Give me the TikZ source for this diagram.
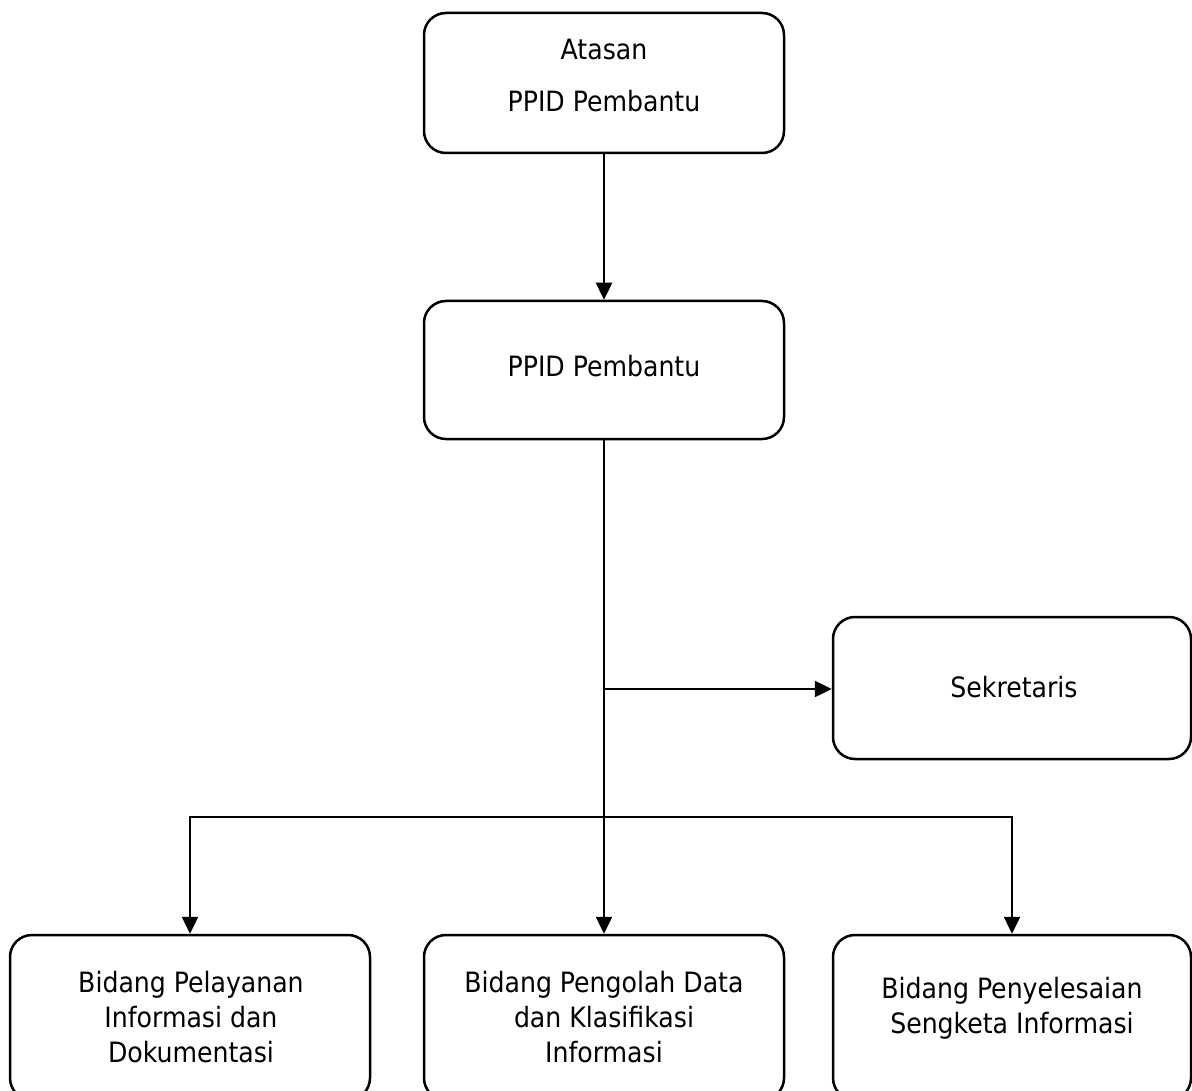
\documentclass[tikz,border=0pt]{standalone}
\usepackage{fontspec}
\setmainfont{DejaVu Sans Condensed}
\usetikzlibrary{arrows.meta}
\begin{document}
\begin{tikzpicture}[x=1pt,y=-1pt,
  box/.style={draw=black, line width=2.5pt, rounded corners=22pt, fill=white, inner sep=0pt},
  lbl/.style={font=\fontsize{28}{35}\selectfont, align=center, anchor=base, inner sep=0pt},
  conn/.style={line width=2.5pt},
  arr/.style={conn, -{Triangle[length=17pt,width=16pt]}}]
\useasboundingbox (0,0) rectangle (1192,1091);
\clip (0,0) rectangle (1192,1091);
% boxes
\node[box, minimum width=360pt, minimum height=140pt] (top) at (604,83) {};
\node[box, minimum width=360pt, minimum height=138pt] (ppid) at (604,370) {};
\node[box, minimum width=358pt, minimum height=142pt] (sek) at (1012,688) {};
\node[box, minimum width=360pt, minimum height=165pt] (left) at (190,1017.5) {};
\node[box, minimum width=360pt, minimum height=165pt] (mid) at (604,1017.5) {};
\node[box, minimum width=358pt, minimum height=165pt] (right) at (1012,1017.5) {};
% texts (base anchor = baseline of the last line)
\node[lbl] (ttop) at (604,112) {Atasan\\[17pt]PPID Pembantu};
\node[lbl] (tppid) at (604,377) {PPID Pembantu};
\node[lbl] (tsek) at (1014,697) {Sekretaris};
\node[lbl] (tleft) at (191,1062) {Bidang Pelayanan\\Informasi dan\\Dokumentasi};
\node[lbl] (tmid) at (604,1062) {Bidang Pengolah Data\\dan Klasifikasi\\Informasi};
\node[lbl] (tright) at (1012,1033) {Bidang Penyelesaian\\Sengketa Informasi};
% connectors
\coordinate (j) at (604,689);
\coordinate (b) at (604,817);
\draw[arr] (top.south) -- (ppid.north);
\draw[arr] (ppid.south) -- (mid.north);
\draw[arr] (j) -- (j -| sek.west);
\draw[arr] (b) -| (left.north);
\draw[arr] (b) -| (right.north);
\end{tikzpicture}
\end{document}
